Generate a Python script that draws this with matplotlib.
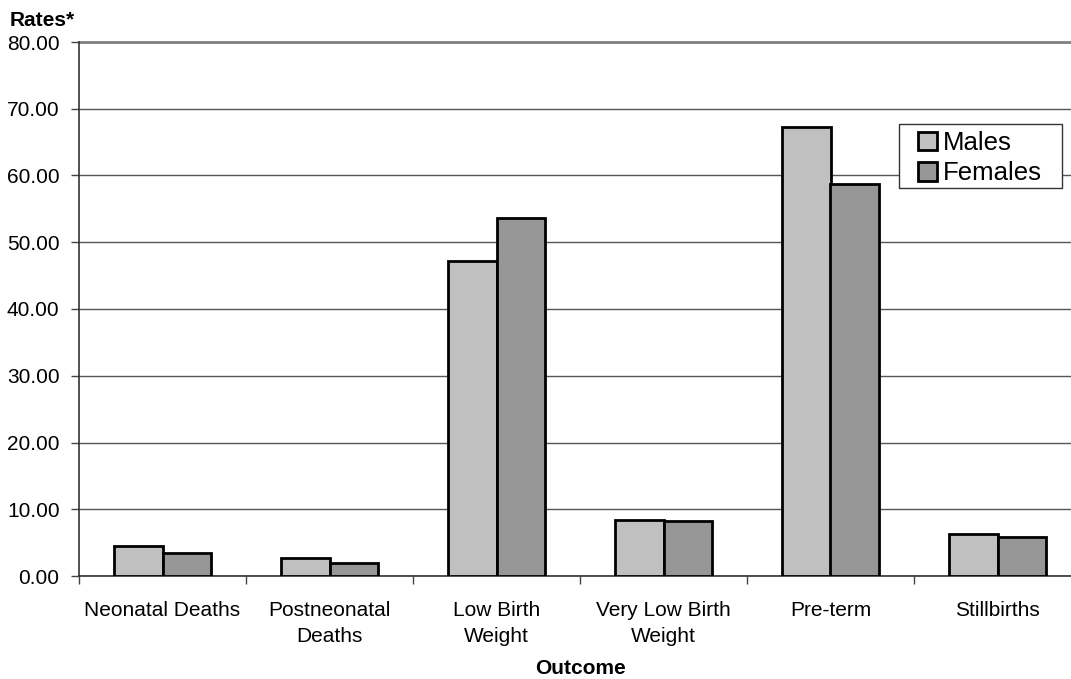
import matplotlib.pyplot as plt
from matplotlib.patches import Rectangle
import numpy as np

plt.rcParams['font.family'] = ['Liberation Sans', 'DejaVu Sans']

categories = ['Neonatal Deaths', 'Postneonatal\nDeaths', 'Low Birth\nWeight',
              'Very Low Birth\nWeight', 'Pre-term', 'Stillbirths']
males = [4.48, 2.70, 47.2, 8.46, 67.2, 6.30]
females = [3.50, 1.90, 53.6, 8.25, 58.8, 5.90]

W, H = 1071, 679
fig = plt.figure(figsize=(W / 100, H / 100), dpi=100)
# axes runs slightly past the right edge, as in the original
left, right, top, bottom = 79, 1081, 42, 576
ax = fig.add_axes([left / W, 1 - bottom / H, (right - left) / W, (bottom - top) / H])

x = np.arange(len(categories))
bw = 0.29
ax.bar(x - bw / 2, males, bw, color='#C0C0C0', edgecolor='black', linewidth=2, label='Males', zorder=3)
ax.bar(x + bw / 2, females, bw, color='#969696', edgecolor='black', linewidth=2, label='Females', zorder=3)

ax.set_xlim(-0.5, len(categories) - 0.5)
ax.set_ylim(0, 80)
ax.set_yticks(np.arange(0, 81, 10))
ax.set_yticklabels([f'{v:.2f}' for v in np.arange(0, 81, 10)], fontsize=15)
ax.yaxis.grid(True, color='#555555', linewidth=1)
ax.set_axisbelow(True)
# top border of plot area is a heavier grey line
ax.axhline(80, color='#808080', linewidth=2, clip_on=False, zorder=2)

ax.set_xticks(x)
ax.set_xticklabels(categories, fontsize=15, linespacing=1.5, va='top')
ax.set_xticks(np.arange(-0.5, len(categories), 1), minor=True)
ax.tick_params(axis='x', which='major', length=0, pad=18)
ax.tick_params(axis='x', which='minor', length=6, width=1, color='#444444')
ax.tick_params(axis='y', length=6, width=1, color='#444444', pad=8)

for s in ['top', 'right']:
    ax.spines[s].set_visible(False)
ax.spines['left'].set_color('#333333')
ax.spines['bottom'].set_color('#333333')
ax.spines['left'].set_linewidth(1.2)
ax.spines['bottom'].set_linewidth(1.2)

fig.text(10 / W, 1 - 20 / H, 'Rates*', fontsize=15, fontweight='bold', va='center', ha='left')
fig.text(581 / W, 1 - 669 / H, 'Outcome', fontsize=15, fontweight='bold', va='center', ha='center')

# legend box drawn separately so its padding matches the original
fig.patches.append(Rectangle((899 / W, 1 - 188 / H), 163 / W, 64 / H, transform=fig.transFigure,
                             facecolor='white', edgecolor='#333333', linewidth=1, zorder=4))
leg = fig.legend(loc='upper left', bbox_to_anchor=(918 / W, 1 - 131 / H),
                 fontsize=18.5, frameon=False,
                 handlelength=0.75, handleheight=0.75, handletextpad=0.2, borderpad=0,
                 labelspacing=0.25, borderaxespad=0)
leg.set_zorder(5)

fig.savefig('out.png', dpi=100)
